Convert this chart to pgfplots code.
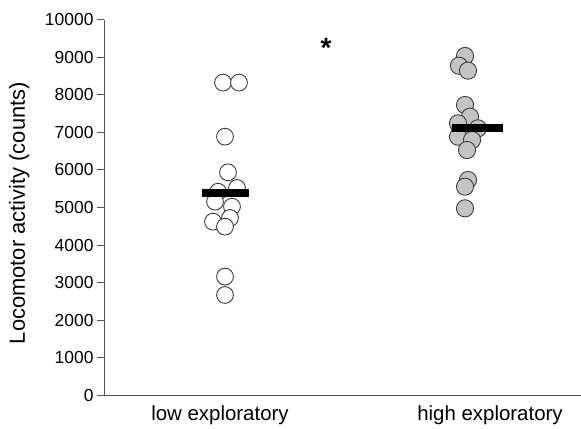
\documentclass[border=0pt]{standalone}
\usepackage{fontspec}
\setmainfont{Liberation Sans}
\usepackage{pgfplots}
\pgfplotsset{compat=1.18}
\usetikzlibrary{calc}
\definecolor{axisgray}{HTML}{505050}
\definecolor{dotgray}{HTML}{C4C4C4}
\definecolor{edgegray}{HTML}{3A3A3A}

\begin{document}
\begin{tikzpicture}
\begin{axis}[
  name=ax, scale only axis, width=477bp, height=375bp,
  set layers,
  xmin=104, xmax=581, ymin=0, ymax=10000,
  axis x line=bottom, axis y line=left,
  axis line style={-, draw=axisgray, line width=1pt},
  xtick={220,490}, xticklabels={low exploratory,high exploratory},
  x tick style={draw=none},
  ytick={0,1000,...,10000},
  y tick style={draw=axisgray, line width=1pt},
  tick align=outside, major tick length=7bp,
  scaled ticks=false,
  /pgf/number format/1000 sep={},
  /pgf/number format/assume math mode=true,
  y tick label style={font=\fontsize{17.5}{19}\selectfont},
  x tick label style={font=\fontsize{20.5}{23}\selectfont},
  ylabel={Locomotor activity (counts)},
  ylabel style={font=\fontsize{22}{24}\selectfont, at={(axis description cs:-0.178,0.485)}, anchor=center},
  clip=false,
]
% low exploratory group
\addplot[only marks, mark=*, mark size=8.4bp,
  mark options={fill=white, draw=edgegray, line width=0.9pt}] coordinates {
  (223,8330) (239,8330) (225,6889) (228,5938)
  (218,5420) (237,5520) (215,5155) (232,5022)
  (230,4720) (213,4622) (225,4489)
  (225,3156) (225,2667)
};
% high exploratory group
\addplot[only marks, mark=*, mark size=8.6bp,
  mark options={fill=dotgray, draw=edgegray, line width=0.9pt}] coordinates {
  (465,9040) (459,8780) (468,8650) (465,7733)
  (470,7422) (458,7244) (478,7111) (458,6889)
  (472,6800) (467,6533)
  (468,5733) (465,5555) (465,4978)
};
% group means
\addplot[on layer=axis foreground, black, line width=8bp, no marks] coordinates {(201.7,5395) (249.3,5395)};
\addplot[on layer=axis foreground, black, line width=8bp, no marks] coordinates {(451.7,7111) (503.3,7111)};
\node[font=\bfseries\fontsize{28}{30}\selectfont] at (axis cs:326,9250) {*};
\end{axis}
\pgfresetboundingbox
\path ($(ax.south west)+(-104bp,-34bp)$) rectangle ($(ax.north east)+(0,20bp)$);
\end{tikzpicture}
\end{document}
